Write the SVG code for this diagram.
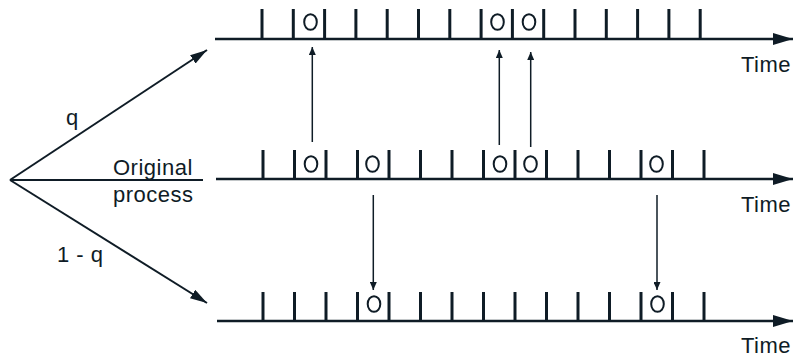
<svg xmlns="http://www.w3.org/2000/svg" width="794" height="360" viewBox="0 0 794 360">
<defs>
<style>
.ax{stroke:#0f1c26;stroke-width:2.5;fill:none}
.tk{stroke:#0f1c26;stroke-width:3}
.ev{stroke:#0f1c26;stroke-width:2;fill:none}
.br{stroke:#0f1c26;stroke-width:2;fill:none}
.vt{stroke:#0f1c26;stroke-width:1.5;fill:none}
.lb{font-family:"Liberation Sans",Arial,sans-serif;font-size:22px;fill:#0f1c26;letter-spacing:0.5px}
</style>
<marker id="ah" markerUnits="userSpaceOnUse" markerWidth="20" markerHeight="12" refX="20" refY="6" orient="auto"><path d="M0,0 L20,6 L0,12 z" fill="#0f1c26"/></marker>
<marker id="bh" markerUnits="userSpaceOnUse" markerWidth="17" markerHeight="10" refX="17" refY="5" orient="auto"><path d="M0,0 L17,5 L0,10 z" fill="#0f1c26"/></marker>
<marker id="vh" markerUnits="userSpaceOnUse" markerWidth="8" markerHeight="7" refX="8" refY="3.5" orient="auto"><path d="M0,0 L8,3.5 L0,7 z" fill="#0f1c26"/></marker>
</defs>
<rect width="794" height="360" fill="#ffffff"/>

<g id="top-process">
<line class="ax" x1="215" y1="39" x2="793" y2="39" marker-end="url(#ah)"/>
<g class="tk">
<line x1="262" y1="9" x2="262" y2="39"/><line x1="293.3" y1="9" x2="293.3" y2="39"/><line x1="324.6" y1="9" x2="324.6" y2="39"/><line x1="355.9" y1="9" x2="355.9" y2="39"/><line x1="387.2" y1="9" x2="387.2" y2="39"/><line x1="418.5" y1="9" x2="418.5" y2="39"/><line x1="449.8" y1="9" x2="449.8" y2="39"/><line x1="481.1" y1="9" x2="481.1" y2="39"/><line x1="512.4" y1="9" x2="512.4" y2="39"/><line x1="543.7" y1="9" x2="543.7" y2="39"/><line x1="575" y1="9" x2="575" y2="39"/><line x1="606.3" y1="9" x2="606.3" y2="39"/><line x1="637.6" y1="9" x2="637.6" y2="39"/><line x1="668.9" y1="9" x2="668.9" y2="39"/><line x1="700.2" y1="9" x2="700.2" y2="39"/>
</g>
<ellipse class="ev" cx="310.5" cy="22" rx="6.3" ry="7.8"/>
<ellipse class="ev" cx="497.5" cy="22" rx="6.3" ry="7.8"/>
<ellipse class="ev" cx="529" cy="22" rx="6.3" ry="7.8"/>
<text class="lb" x="791" y="72" text-anchor="end">Time</text>
</g>

<g id="original-process">
<line class="ax" x1="216" y1="179" x2="793" y2="179" marker-end="url(#ah)"/>
<g class="tk">
<line x1="263" y1="150" x2="263" y2="179"/><line x1="294.5" y1="150" x2="294.5" y2="179"/><line x1="326" y1="150" x2="326" y2="179"/><line x1="357.5" y1="150" x2="357.5" y2="179"/><line x1="389" y1="150" x2="389" y2="179"/><line x1="420.5" y1="150" x2="420.5" y2="179"/><line x1="452" y1="150" x2="452" y2="179"/><line x1="483.5" y1="150" x2="483.5" y2="179"/><line x1="515" y1="150" x2="515" y2="179"/><line x1="546.5" y1="150" x2="546.5" y2="179"/><line x1="578" y1="150" x2="578" y2="179"/><line x1="609.5" y1="150" x2="609.5" y2="179"/><line x1="641" y1="150" x2="641" y2="179"/><line x1="672.5" y1="150" x2="672.5" y2="179"/><line x1="704" y1="150" x2="704" y2="179"/>
</g>
<ellipse class="ev" cx="311" cy="164" rx="6.3" ry="7.8"/>
<ellipse class="ev" cx="372.5" cy="164" rx="6.3" ry="7.8"/>
<ellipse class="ev" cx="500" cy="164" rx="6.3" ry="7.8"/>
<ellipse class="ev" cx="530.5" cy="164" rx="6.3" ry="7.8"/>
<ellipse class="ev" cx="656.5" cy="164" rx="6.3" ry="7.8"/>
<text class="lb" x="791" y="212" text-anchor="end">Time</text>
</g>

<g id="bottom-process">
<line class="ax" x1="217" y1="321" x2="793" y2="321" marker-end="url(#ah)"/>
<g class="tk">
<line x1="263" y1="292" x2="263" y2="321"/><line x1="294.5" y1="292" x2="294.5" y2="321"/><line x1="326" y1="292" x2="326" y2="321"/><line x1="357.5" y1="292" x2="357.5" y2="321"/><line x1="389" y1="292" x2="389" y2="321"/><line x1="420.5" y1="292" x2="420.5" y2="321"/><line x1="452" y1="292" x2="452" y2="321"/><line x1="483.5" y1="292" x2="483.5" y2="321"/><line x1="515" y1="292" x2="515" y2="321"/><line x1="546.5" y1="292" x2="546.5" y2="321"/><line x1="578" y1="292" x2="578" y2="321"/><line x1="609.5" y1="292" x2="609.5" y2="321"/><line x1="641" y1="292" x2="641" y2="321"/><line x1="672.5" y1="292" x2="672.5" y2="321"/><line x1="704" y1="292" x2="704" y2="321"/>
</g>
<ellipse class="ev" cx="374" cy="304" rx="6.3" ry="7.8"/>
<ellipse class="ev" cx="657.5" cy="304" rx="6.3" ry="7.8"/>
<text class="lb" x="791" y="353" text-anchor="end">Time</text>
</g>

<g id="labels">
<text class="lb" x="66" y="125">q</text>
<text class="lb" x="113" y="175">Original</text>
<text class="lb" x="113" y="202">process</text>
<text class="lb" x="57" y="262">1 - q</text>
</g>

<g id="connectors">
<line class="br" x1="10" y1="180" x2="203" y2="180"/>
<line class="br" x1="10" y1="180" x2="207" y2="50" marker-end="url(#bh)"/>
<line class="br" x1="10" y1="180" x2="207" y2="303" marker-end="url(#bh)"/>
<line class="vt" x1="312.3" y1="142" x2="312.3" y2="47" marker-end="url(#vh)"/>
<line class="vt" x1="499.3" y1="145" x2="499.3" y2="50" marker-end="url(#vh)"/>
<line class="vt" x1="530.7" y1="147" x2="530.7" y2="52" marker-end="url(#vh)"/>
<line class="vt" x1="373.3" y1="195" x2="373.3" y2="290" marker-end="url(#vh)"/>
<line class="vt" x1="657" y1="195" x2="657" y2="290" marker-end="url(#vh)"/>
</g>
</svg>
